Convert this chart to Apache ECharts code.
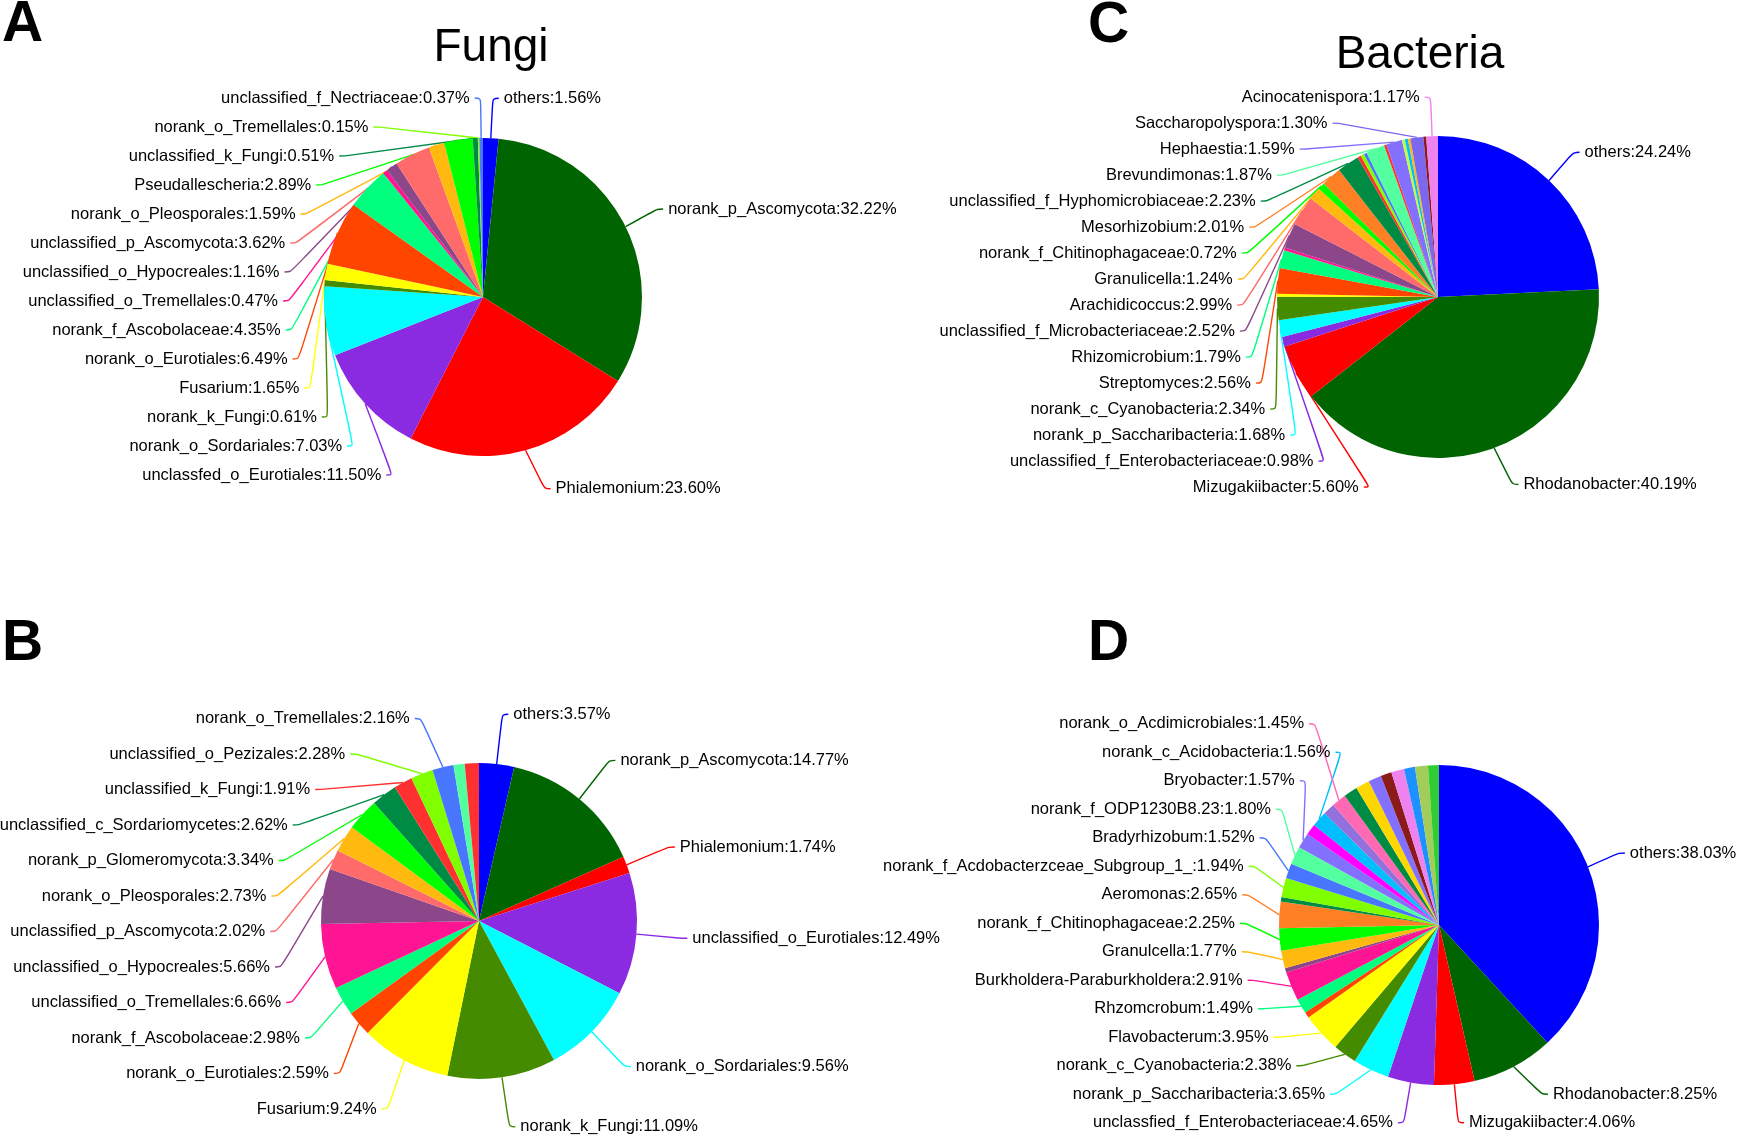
<!DOCTYPE html>
<html>
<head>
<meta charset="utf-8">
<script src="https://cdn.jsdelivr.net/npm/echarts@6/dist/echarts.min.js"></script>
<style>
html,body{margin:0;padding:0;background:#fff;}
#chart{width:1743px;height:1137px;}
</style>
</head>
<body>
<div id="chart"></div>
<script>
// ---- Panel A: Fungi ----
const aNames = ['others','norank_p_Ascomycota','Phialemonium','unclassfed_o_Eurotiales','norank_o_Sordariales','norank_k_Fungi','Fusarium','norank_o_Eurotiales','norank_f_Ascobolaceae','unclassified_o_Tremellales','unclassified_o_Hypocreales','unclassified_p_Ascomycota','norank_o_Pleosporales','Pseudallescheria','unclassified_k_Fungi','norank_o_Tremellales','unclassified_f_Nectriaceae'];
const aValues = [1.56,32.22,23.60,11.50,7.03,0.61,1.65,6.49,4.35,0.47,1.16,3.62,1.59,2.89,0.51,0.15,0.37];
const aColors = ['#0000FF','#006400','#FF0000','#8A2BE2','#00FFFF','#458B00','#FFFF00','#FF4500','#00FF7F','#FF1493','#8B4789','#FF6A6A','#FFB90F','#00FF00','#008B45','#7FFF00','#4876FF'];

// ---- Panel B ----
const bNames = ['others','norank_p_Ascomycota','Phialemonium','unclassified_o_Eurotiales','norank_o_Sordariales','norank_k_Fungi','Fusarium','norank_o_Eurotiales','norank_f_Ascobolaceae','unclassified_o_Tremellales','unclassified_o_Hypocreales','unclassified_p_Ascomycota','norank_o_Pleosporales','norank_p_Glomeromycota','unclassified_c_Sordariomycetes','unclassified_k_Fungi','unclassified_o_Pezizales','norank_o_Tremellales','',''];
const bValues = [3.57,14.77,1.74,12.49,9.56,11.09,9.24,2.59,2.98,6.66,5.66,2.02,2.73,3.34,2.62,1.91,2.28,2.16,1.15,1.44];
const bColors = ['#0000FF','#006400','#FF0000','#8A2BE2','#00FFFF','#458B00','#FFFF00','#FF4500','#00FF7F','#FF1493','#8B4789','#FF6A6A','#FFB90F','#00FF00','#008B45','#FF3030','#7FFF00','#4876FF','#54FF9F','#FF3030'];

// ---- Panel C: Bacteria ----
const cNames = ['others','Rhodanobacter','Mizugakiibacter','unclassified_f_Enterobacteriaceae','norank_p_Saccharibacteria','norank_c_Cyanobacteria','','Streptomyces','Rhizomicrobium','','unclassified_f_Microbacteriaceae','Arachidicoccus','Granulicella','norank_f_Chitinophagaceae','Mesorhizobium','unclassified_f_Hyphomicrobiaceae','','','','Brevundimonas','','Hephaestia','','','','Saccharopolyspora','','Acinocatenispora'];
const cValues = [24.24,40.19,5.60,0.98,1.68,2.34,0.30,2.56,1.79,0.30,2.52,2.99,1.24,0.72,2.01,2.23,0.35,0.35,0.30,1.87,0.25,1.59,0.30,0.30,0.25,1.30,0.28,1.17];
const cColors = ['#0000FF','#006400','#FF0000','#8A2BE2','#00FFFF','#458B00','#FFFF00','#FF4500','#00FF7F','#FF1493','#8B4789','#FF6A6A','#FFB90F','#00FF00','#FF7F24','#008B45','#FF3030','#7FFF00','#4876FF','#54FF9F','#FF3030','#8470FF','#C0FF3E','#00BFFF','#FFB90F','#7B68EE','#8B1A1A','#EE82EE'];

// ---- Panel D ----
const dNames = ['others','Rhodanobacter','Mizugakiibacter','unclassfied_f_Enterobacteriaceae','norank_p_Saccharibacteria','norank_c_Cyanobacteria','Flavobacterum','','Rhzomcrobum','Burkholdera-Paraburkholdera','','Granulcella','norank_f_Chitinophagaceae','Aeromonas','','norank_f_Acdobacterzceae_Subgroup_1_','Bradyrhizobum','norank_f_ODP1230B8.23','Bryobacter','','norank_c_Acidobacteria','','norank_o_Acdimicrobiales','','','','','','','',''];
const dValues = [38.03,8.25,4.06,4.65,3.65,2.38,3.95,0.60,1.49,2.91,0.45,1.77,2.25,2.65,0.45,1.94,1.52,1.80,1.57,1.10,1.56,1.20,1.45,1.40,1.40,1.30,1.10,1.30,1.10,1.30,1.10];
const dColors = ['#0000FF','#006400','#FF0000','#8A2BE2','#00FFFF','#458B00','#FFFF00','#FF4500','#00FF7F','#FF1493','#8B4789','#FFB90F','#00FF00','#FF7F24','#008B45','#7FFF00','#4876FF','#54FF9F','#8470FF','#FF00FF','#00BFFF','#9370DB','#FF69B4','#008B45','#FFD700','#8470FF','#8B1A1A','#EE82EE','#1E90FF','#A2CD5A','#32CD32'];

const panelLetters = ['A','B','C','D'];
const titles = ['Fungi','Bacteria'];

function buildData(names, values, colors) {
  return names.map((n, i) => {
    const item = { name: n, value: values[i], itemStyle: { color: colors[i] } };
    if (!n) { item.label = { show: false }; item.labelLine = { show: false }; }
    return item;
  });
}

// Place shifted labels back on a circle around the pie (classic pie label placement)
function circleLabelLayout(center, r, len, len2) {
  const cx = center[0], cy = center[1];
  return function (p) {
    const pts = p.labelLinePoints;
    if (!pts || !p.labelRect) return {};
    const rect = p.labelRect;
    const y = rect.y + rect.height / 2;
    const dir = p.align === 'right' ? -1 : 1;
    const dY = Math.abs(y - cy);
    let dX;
    if (dY < r + len - 3) {
      dX = Math.sqrt((r + len + len2) * (r + len + len2) - dY * dY);
    } else {
      dX = (r + len) * Math.abs(pts[0][0] - cx) / r + len2 + 5;
    }
    const x = cx + dir * dX;
    const x2 = x - dir * 5;
    const x1 = x2 - dir * len2;
    return { x: x, labelLinePoints: [pts[0], [x1, y], [x2, y]] };
  };
}

function pieSeries(names, values, colors, center, radius, len, lh, bottom) {
  const len2 = 6;
  return {
    type: 'pie',
    left: 0,
    top: 0,
    right: -100,
    bottom: bottom,
    center: center,
    radius: radius,
    startAngle: 90,
    clockwise: true,
    avoidLabelOverlap: true,
    animation: false,
    emphasis: { disabled: true },
    itemStyle: { borderWidth: 0 },
    labelLayout: circleLabelLayout(center, radius, len, len2),
    label: {
      show: true,
      position: 'outside',
      color: '#000',
      fontFamily: 'Liberation Sans, Arial, sans-serif',
      fontSize: 16.5,
      lineHeight: lh,
      overflow: 'none',
      bleedMargin: 0,
      formatter: p => p.name + ':' + p.value.toFixed(2) + '%'
    },
    labelLine: {
      show: true,
      length: len,
      length2: len2,
      smooth: 0.35,
      lineStyle: { width: 1.4 }
    },
    data: buildData(names, values, colors)
  };
}

const chart = echarts.init(document.getElementById('chart'), null, { renderer: 'canvas' });
const letterStyle = { fontFamily: 'Liberation Sans, Arial, sans-serif', fontWeight: 'bold', fontSize: 57, fill: '#000' };
const titleStyle = { fontFamily: 'Liberation Sans, Arial, sans-serif', fontSize: 46, fill: '#000', textAlign: 'center' };
chart.setOption({
  backgroundColor: '#fff',
  animation: false,
  graphic: [
    { type: 'text', left: 2, top: -3, style: Object.assign({ text: panelLetters[0] }, letterStyle) },
    { type: 'text', left: 2, top: 616, style: Object.assign({ text: panelLetters[1] }, letterStyle) },
    { type: 'text', left: 1088, top: -2, style: Object.assign({ text: panelLetters[2] }, letterStyle) },
    { type: 'text', left: 1088, top: 616, style: Object.assign({ text: panelLetters[3] }, letterStyle) },
    { type: 'text', x: 491, y: 25, style: Object.assign({ text: titles[0] }, titleStyle) },
    { type: 'text', x: 1420, y: 32, style: Object.assign({ text: titles[1] }, titleStyle) }
  ],
  series: [
    pieSeries(aNames, aValues, aColors, [483, 297], 159, 40, 27, 0),
    pieSeries(bNames, bValues, bColors, [479, 921], 158, 50, 33.5, -20),
    pieSeries(cNames, cValues, cColors, [1438, 297], 161, 39, 24, 0),
    pieSeries(dNames, dValues, dColors, [1439, 925], 160, 38, 26.5, 0)
  ]
});
</script>
</body>
</html>
